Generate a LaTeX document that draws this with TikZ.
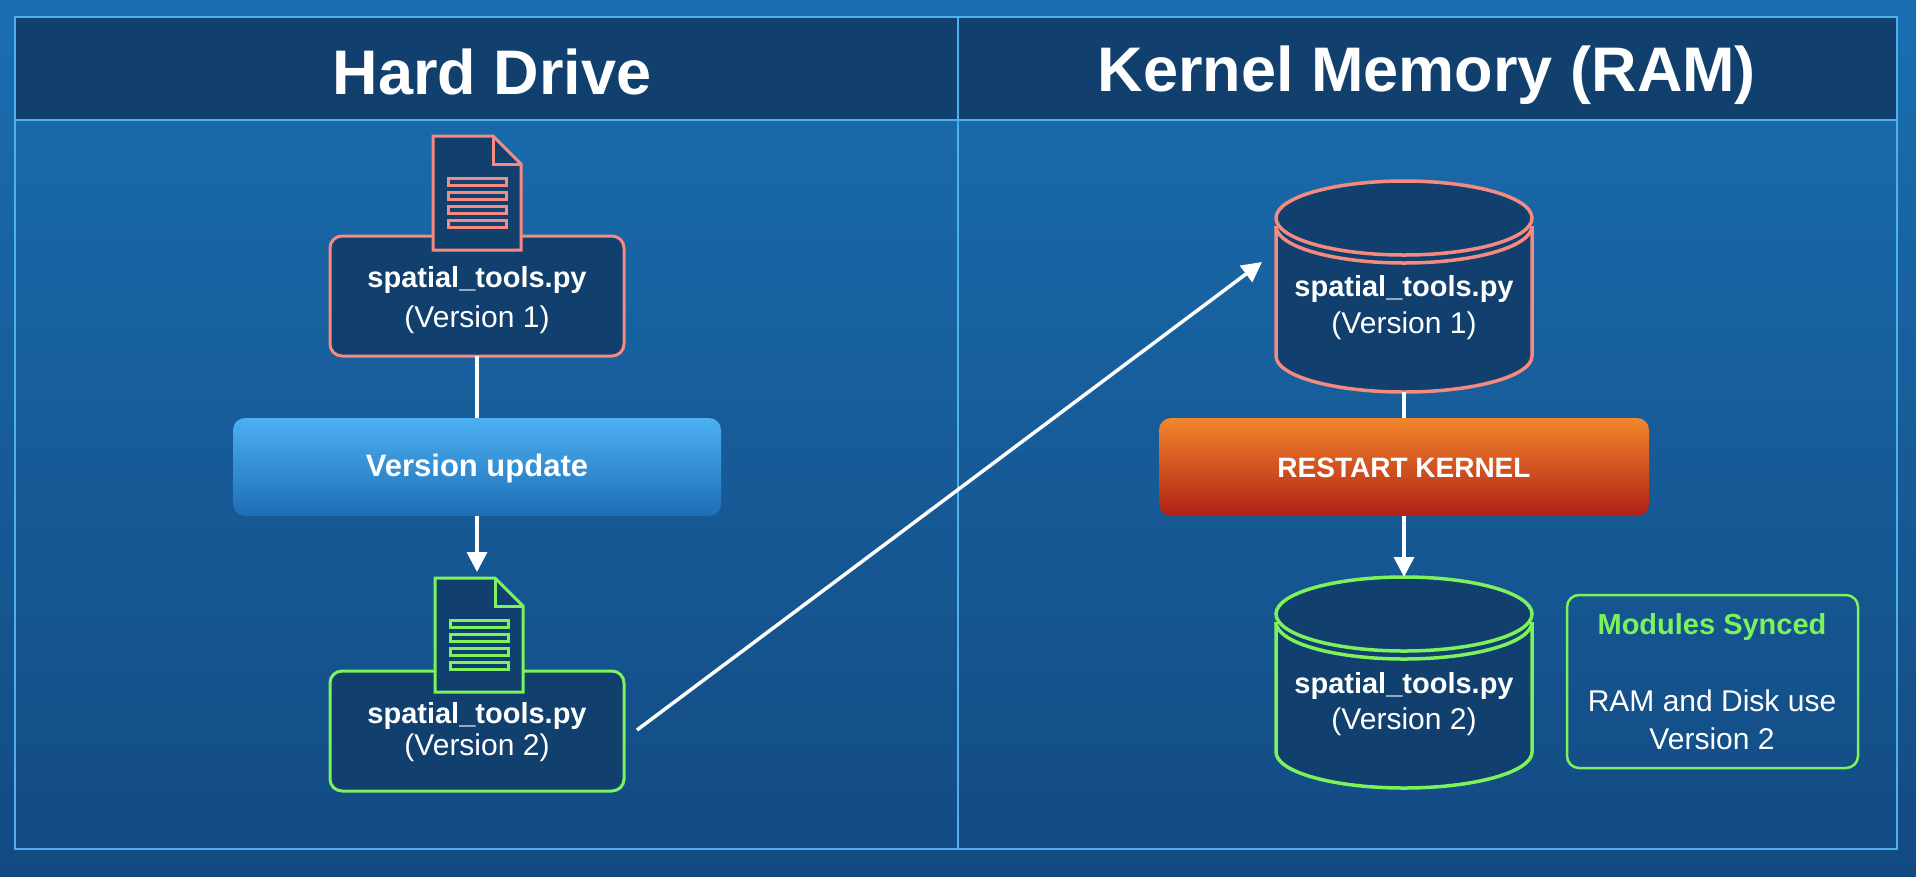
\documentclass[tikz,border=0pt]{standalone}
\usepackage{fontspec}
\setmainfont{Liberation Sans}
\usetikzlibrary{arrows.meta}
\definecolor{salmon}{HTML}{F58A80}
\definecolor{lgreen}{HTML}{7CF25C}
\definecolor{navy}{HTML}{11406E}
\definecolor{frame}{HTML}{4FB0F0}
\tikzset{
  box/.style={line width=3pt, fill=navy, rounded corners=12pt},
  fname/.style={text=white, font=\bfseries\fontsize{29}{34}\selectfont, align=center},
  vname/.style={text=white, font=\fontsize{30}{34}\selectfont},
  conn/.style={white, line width=3.5pt},
  arr/.style={conn, -{Triangle[length=20pt,width=20pt]}},
  ttl/.style={text=white, font=\bfseries\fontsize{63}{70}\selectfont},
}
\newcommand{\fileicon}[3]{% x,y top-left, color
  \begin{scope}[shift={(#1,#2)}]
  \draw[draw=#3, line width=3pt, fill=navy, line join=miter] (0,0) -- (60,0) -- (88,28) -- (88,114) -- (0,114) -- cycle;
  \draw[#3, line width=3pt, line join=miter] (60,0) -- (60,28) -- (88,28);
  \foreach \yy in {42,56,70,84} \draw[#3, line width=3pt] (15,\yy) rectangle (73,\yy+7);
  \end{scope}}
\newcommand{\cyl}[5]{% cx, ytop-center, ybot-center, color, name
  \begin{scope}
  \fill[navy] (#1-128,#2) -- (#1-128,#3) arc(180:0:128 and 36) -- (#1+128,#2) arc(0:-180:128 and 37) -- cycle;
  \draw[#4, line width=3.5pt] (#1-128,#2+8) -- (#1-128,#3) arc(180:0:128 and 36) -- (#1+128,#2+8);
  \draw[#4, line width=3.5pt] (#1-128,#2+8) arc(180:0:128 and 37);
  \draw[draw=#4, line width=3.5pt, fill=navy] (#1,#2) ellipse (128 and 37);
  \coordinate (#5top) at (#1,#2-37);
  \coordinate (#5bot) at (#1,#3+36);
  \end{scope}}
\begin{document}
\begin{tikzpicture}[x=1pt,y=-1pt]
\useasboundingbox (0,0) rectangle (1916,876);
\shade[top color={rgb,255:red,26;green,110;blue,176}, bottom color={rgb,255:red,19;green,74;blue,130}] (0,0) rectangle (1916,876);
\fill[navy] (15,17) rectangle (1897,120);
\draw[frame, line width=2.5pt] (15,17) rectangle (1897,849);
\draw[frame, line width=2.5pt] (15,120) -- (1897,120);
\draw[frame, line width=2.5pt] (958,17) -- (958,849);
\node[ttl] (t1) at (492,72) {Hard Drive};
\node[ttl] (t2) at (1427,75) {Kernel Memory (RAM)};

% left column
\draw[box, draw=salmon] (330,236) rectangle (624,356);
\fileicon{433}{136}{salmon}
\node[fname] (f1) at (477,280) {spatial\_tools.py};
\node[vname] (v1) at (477,320) {(Version 1)};
\coordinate (b1bot) at (477,356);

\shade[rounded corners=12pt, top color={rgb,255:red,76;green,176;blue,242}, bottom color={rgb,255:red,30;green,110;blue,180}] (233,418) rectangle (721,516);
\node[text=white, font=\bfseries\fontsize{31}{34}\selectfont] (vu) at (477,468) {Version update};
\coordinate (vutop) at (477,418);
\coordinate (vubot) at (477,516);
\coordinate (f2top) at (477,572);
\draw[conn] (b1bot) -- (vutop);
\draw[arr] (vubot) -- (f2top);

\draw[box, draw=lgreen] (330,671) rectangle (624,791);
\fileicon{435}{578}{lgreen}
\node[fname] (f2) at (477,716) {spatial\_tools.py};
\node[vname] (v2) at (477,748) {(Version 2)};
\coordinate (b2r) at (637,730);
\coordinate (c1in) at (1262,262);
\draw[arr] (b2r) -- (c1in);

% right column
\cyl{1404}{218}{356}{salmon}{ca}
\node[fname] (f3) at (1404,289) {spatial\_tools.py};
\node[vname] (v3) at (1404,326) {(Version 1)};

\shade[rounded corners=12pt, top color={rgb,255:red,242;green,134;blue,44}, bottom color={rgb,255:red,176;green,32;blue,22}] (1159,418) rectangle (1649,516);
\node[text=white, font=\bfseries\fontsize{28}{32}\selectfont] (rk) at (1404,468) {RESTART KERNEL};
\coordinate (rktop) at (1404,418);
\coordinate (rkbot) at (1404,516);
\draw[conn] (cabot) -- (rktop);

\cyl{1404}{614}{752}{lgreen}{cb}
\draw[arr] (rkbot) -- (cbtop);
\node[fname] (f4) at (1404,686) {spatial\_tools.py};
\node[vname] (v4) at (1404,722) {(Version 2)};

\draw[lgreen, line width=2.5pt, rounded corners=12pt] (1567,595) rectangle (1858,768);
\node[text=lgreen, font=\bfseries\fontsize{29}{34}\selectfont] (ms) at (1712,627) {Modules Synced};
\node[vname, align=center, font=\fontsize{30}{38}\selectfont] (rd) at (1712,720) {RAM and Disk use\\Version 2};
\end{tikzpicture}
\end{document}
